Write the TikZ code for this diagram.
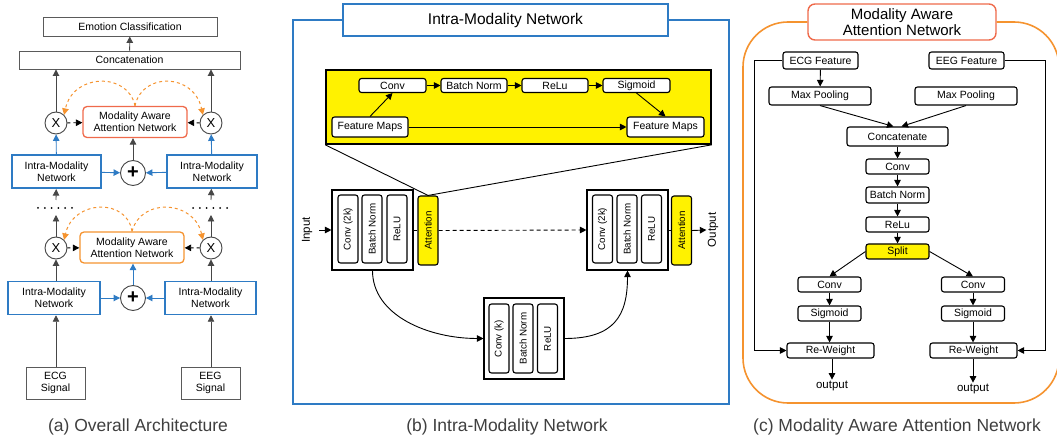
\documentclass[tikz,border=0pt]{standalone}
\usepackage{fontspec}
\setmainfont{Liberation Sans}
\usepackage{tikz}
\usepackage{xcolor}
\usetikzlibrary{arrows.meta,shapes}
\definecolor{imnblue}{RGB}{46,123,196}
\definecolor{maanred}{RGB}{239,106,75}
\definecolor{maanorange}{RGB}{245,147,47}
\definecolor{boxgray}{RGB}{90,90,90}
\definecolor{linegray}{RGB}{70,70,70}
\definecolor{capgray}{RGB}{63,63,63}
\def\BoxFont{\fontsize{10.5}{12}\selectfont}
\def\CapFont{\fontsize{17.5}{20}\selectfont}
\tikzset{every scope/.style={>={Triangle[length=6.5pt,width=6.5pt]},line width=0.9pt}}
\tikzstyle{plain_box} =
  [ rectangle
  , draw=boxgray
  , font=\BoxFont
  , align=center
  , inner sep=0pt
  ]
\tikzstyle{imn_box} =
  [ rectangle
  , draw=imnblue
  , line width=1.5pt
  , font=\BoxFont
  , align=center
  , inner sep=0pt
  , minimum height=33pt
  ]
\tikzstyle{maan_box} =
  [ rectangle
  , rounded corners=4pt
  , line width=1.3pt
  , font=\BoxFont
  , align=center
  , inner sep=0pt
  , minimum width=104pt
  , minimum height=31pt
  ]
\tikzstyle{op_circle} =
  [ circle
  , draw=linegray
  , fill=white
  , inner sep=0pt
  , font=\fontsize{13}{13}\selectfont
  ]
\tikzstyle{layer} =
  [ rectangle
  , rounded corners=2.5pt
  , draw
  , line width=1.1pt
  , fill=white
  , font=\BoxFont
  , inner sep=0pt
  , minimum height=14pt
  ]
\tikzstyle{vlayer} =
  [ layer
  , rotate=90
  , font=\fontsize{9.8}{11}\selectfont
  , minimum width=68pt
  , minimum height=20pt
  ]
\tikzstyle{block} =
  [ rectangle
  , draw
  , line width=1.1pt
  , minimum width=81pt
  , minimum height=80pt
  ]
\tikzstyle{arc_arrow} =
  [ ->
  , maanorange
  , dashed
  , line width=1pt
  ]
\def\IntraNet{Intra-Modality\\Network}
\def\MaanText{Modality Aware\\Attention Network}
\def\PlusSign{{\fontsize{20}{20}\selectfont\textbf{+}}}

\begin{document}
\begin{tikzpicture}[x=1pt,y=-1pt]
    \clip (0,0) rectangle (1057,443);

    \node[plain_box, minimum width=174pt, minimum height=19pt] (emotion) at (130, 26.5) {Emotion Classification};
    \node[plain_box, minimum width=221pt, minimum height=18pt] (concat)  at (129.5, 60)  {Concatenation};
    \draw[->, linegray] (concat) -- (emotion);

    \node[op_circle, minimum size=22pt] (xl_top)   at (56, 123)  {X};
    \node[op_circle, minimum size=22pt] (xr_top)   at (211, 123) {X};
    \node[maan_box, draw=maanred]       (maan_top) at (135, 122) {\MaanText};
    \node[imn_box, line width=2.2pt, minimum width=89pt] (imn_tl) at (56.5, 171.5) {\IntraNet};
    \node[imn_box, minimum width=90pt]  (imn_tr)   at (212, 171.5) {\IntraNet};
    \node[op_circle, minimum size=25pt] (plus_top) at (133, 173) {\PlusSign};

    \draw[->, linegray] (xl_top) -- (xl_top |- concat.south);
    \draw[->, linegray] (xr_top) -- (xr_top |- concat.south);
    \draw[->, dashed, dash pattern=on 3pt off 3pt] (xl_top) -- (maan_top);
    \draw[->, dashed, dash pattern=on 3pt off 3pt] (xr_top) -- (maan_top);
    \draw[arc_arrow] (maan_top.north) .. controls +(-7,-34) and +(9,-42) .. (xl_top.north east);
    \draw[arc_arrow] (maan_top.north) .. controls +(7,-34) and +(-9,-42) .. (xr_top.north west);
    \draw[->, imnblue] (imn_tl) -- (xl_top);
    \draw[->, imnblue] (imn_tr) -- (xr_top);
    \draw[->, imnblue] (imn_tl) -- (plus_top);
    \draw[->, imnblue] (imn_tr) -- (plus_top);
    \draw[->, linegray] (plus_top) -- (plus_top |- maan_top.south);

    \coordinate (gap_l_up)  at (56, 200);
    \coordinate (gap_r_up)  at (211, 200);
    \coordinate (gap_l_low) at (56, 215);
    \coordinate (gap_r_low) at (211, 215);
    \foreach \x in {0,...,5} {
      \fill (38+6.8*\x, 208) circle (1pt);
      \fill (193+6.8*\x, 208) circle (1pt);
    }
    \draw[->, linegray] (gap_l_up) -- (imn_tl);
    \draw[->, linegray] (gap_r_up) -- (imn_tr);

    \node[op_circle, minimum size=22pt] (xl_bot)   at (56, 248)  {X};
    \node[op_circle, minimum size=22pt] (xr_bot)   at (211, 248) {X};
    \node[maan_box, draw=maanorange]    (maan_bot) at (132, 247.5) {\MaanText};
    \node[imn_box, minimum width=92pt]  (imn_bl)   at (54, 298)  {\IntraNet};
    \node[imn_box, minimum width=91pt]  (imn_br)   at (210.5, 298) {\IntraNet};
    \node[op_circle, minimum size=25pt] (plus_bot) at (133, 298) {\PlusSign};
    \node[plain_box, minimum width=59pt, minimum height=32pt] (ecg_sig) at (55.5, 383)  {ECG\\Signal};
    \node[plain_box, minimum width=59pt, minimum height=32pt] (eeg_sig) at (210.5, 383) {EEG\\Signal};

    \draw[->, linegray] (xl_bot) -- (gap_l_low);
    \draw[->, linegray] (xr_bot) -- (gap_r_low);
    \draw[->, dashed, dash pattern=on 3pt off 3pt] (xl_bot) -- (maan_bot);
    \draw[->, dashed, dash pattern=on 3pt off 3pt] (xr_bot) -- (maan_bot);
    \draw[arc_arrow] (maan_bot.north) .. controls +(-5,-34) and +(9,-40) .. (xl_bot.north east);
    \draw[arc_arrow] (maan_bot.north) .. controls +(9,-34) and +(-9,-40) .. (xr_bot.north west);
    \draw[->, linegray] (imn_bl.north -| xl_bot) -- (xl_bot);
    \draw[->, linegray] (imn_br.north -| xr_bot) -- (xr_bot);
    \draw[->, imnblue] (imn_bl) -- (plus_bot);
    \draw[->, imnblue] (imn_br) -- (plus_bot);
    \draw[->, imnblue] (plus_bot) -- (plus_bot |- maan_bot.south);
    \draw[->, linegray] (ecg_sig.north -| xl_bot) -- (imn_bl.south -| xl_bot);
    \draw[->, linegray] (eeg_sig.north -| xr_bot) -- (imn_br.south -| xr_bot);

    \node[text=capgray, font=\CapFont] (caption_a) at (138, 427) {(a) Overall Architecture};

    \node[rectangle, draw=imnblue, line width=1.4pt, minimum width=325pt, minimum height=32pt, font=\fontsize{15.5}{18}\selectfont] (imn_title) at (505.5, 20) {Intra-Modality Network};
    \draw[imnblue, line width=1.6pt] (imn_title.west) -| (293, 404) -| (729, 20) -- (imn_title.east);

    \node[rectangle, draw, line width=1.6pt, fill=yellow, minimum width=385pt, minimum height=74pt] (att_detail) at (518.5, 107) {};
    \node[layer, minimum width=67pt] (conv_a) at (392.5, 85.5) {Conv};
    \node[layer, minimum width=66pt] (bn_a)   at (474, 85.5)   {Batch Norm};
    \node[layer, minimum width=66pt] (relu_a) at (555, 85.5)   {ReLu};
    \node[layer, minimum width=67pt] (sig_a)  at (636.5, 85.5) {Sigmoid};
    \node[layer, minimum width=76pt, minimum height=20pt] (fm_in)  at (370, 127)   {Feature Maps};
    \node[layer, minimum width=77pt, minimum height=20pt] (fm_out) at (665.5, 127) {Feature Maps};
    \draw[->] (conv_a) -- (bn_a);
    \draw[->] (bn_a) -- (relu_a);
    \draw[->] (relu_a) -- (sig_a);
    \draw[->] (fm_in) -- (fm_out);
    \draw[->] (fm_in.north) -- (conv_a.south);
    \draw[->] (sig_a.south) -- (fm_out.north);

    \node[block] (block1) at (372.5, 230) {};
    \node[vlayer] (conv1) at (348, 229)   {Conv (2k)};
    \node[vlayer] (bn1)   at (372, 229)   {Batch Norm};
    \node[vlayer] (relu1) at (397, 229)   {ReLU};
    \node[vlayer, fill=yellow, minimum width=69pt] (att1) at (428, 230.5) {Attention};
    \node[block] (block2) at (627.5, 230) {};
    \node[vlayer] (conv2) at (602.5, 229) {Conv (2k)};
    \node[vlayer] (bn2)   at (627, 229)   {Batch Norm};
    \node[vlayer] (relu2) at (651.5, 229) {ReLU};
    \node[vlayer, fill=yellow, minimum width=69pt] (att2) at (681.5, 230.5) {Attention};
    \node[block, minimum width=80pt, minimum height=81pt] (block3) at (524, 338.5) {};
    \node[vlayer, minimum width=69pt] (conv3) at (499, 338.5)   {Conv (k)};
    \node[vlayer, minimum width=69pt] (bn3)   at (523, 338.5)   {Batch Norm};
    \node[vlayer, minimum width=69pt] (relu3) at (547.5, 338.5) {ReLU};

    \draw (att_detail.south west) -- (att1.east);
    \draw (att_detail.south east) -- (att1.east);
    \node[rotate=90, font=\fontsize{11.5}{13}\selectfont, inner sep=1pt] (input_lbl)  at (307, 230) {Input};
    \node[rotate=90, font=\fontsize{11.5}{13}\selectfont, inner sep=1pt] (output_lbl) at (713, 230) {Output};
    \coordinate (input_start) at (319, 230);
    \draw[->] (input_start) -- (block1.west);
    \draw (block1.east) -- (block1.east -| att1.north);
    \draw[->, dashed, dash pattern=on 4pt off 3pt] (att1.south) -- (block2.west);
    \draw (block2.east) -- (block2.east -| att2.north);
    \draw[->] (att2.south) -- (output_lbl.north);
    \draw[->] (block1.south) .. controls +(0,45) and +(-55,0) .. (block3.west);
    \draw[->] (block3.east) .. controls +(50,0) and +(0,45) .. (block2.south);

    \node[text=capgray, font=\CapFont] (caption_b) at (507, 427) {(b) Intra-Modality Network};

    \node[rectangle, rounded corners=7pt, draw=maanred, line width=1.4pt, fill=white, minimum width=188pt, minimum height=36pt, inner sep=0pt, align=center, font=\fontsize{15}{16.5}\selectfont] (maan_title) at (902, 22) {\MaanText};
    \draw[maanorange, line width=1.6pt, rounded corners=45pt] (maan_title.west) -| (743, 403) -| (1059, 22) -- (maan_title.east);

    \node[layer, minimum width=75pt, minimum height=17pt]  (ecg_feat) at (820.5, 60.5) {ECG Feature};
    \node[layer, minimum width=75pt, minimum height=17pt]  (eeg_feat) at (966.5, 60.5) {EEG Feature};
    \node[layer, minimum width=102pt, minimum height=18pt] (mp_l)     at (820, 96)     {Max Pooling};
    \node[layer, minimum width=102pt, minimum height=18pt] (mp_r)     at (966, 96)     {Max Pooling};
    \node[layer, minimum width=101pt, minimum height=19pt] (concat_c) at (897.5, 136.5) {Concatenate};
    \node[layer, minimum width=63pt, minimum height=15pt]  (conv_c)   at (897.5, 166.5) {Conv};
    \node[layer, minimum width=63pt, minimum height=16pt]  (bn_c)     at (897.5, 195)   {Batch Norm};
    \node[layer, minimum width=63pt, minimum height=15pt]  (relu_c)   at (897.5, 224.5) {ReLu};
    \node[layer, minimum width=63pt, minimum height=15pt, fill=yellow] (split) at (897.5, 251.5) {Split};
    \node[layer, minimum width=63pt, minimum height=15pt]  (conv_l)   at (829.5, 284.5) {Conv};
    \node[layer, minimum width=63pt, minimum height=15pt]  (conv_r)   at (973, 284.5)   {Conv};
    \node[layer, minimum width=63pt, minimum height=15pt]  (sig_l)    at (829.5, 313.5) {Sigmoid};
    \node[layer, minimum width=63pt, minimum height=15pt]  (sig_r)    at (973, 313.5)   {Sigmoid};
    \node[layer, minimum width=87pt, minimum height=15pt]  (rw_l)     at (830.5, 350.5) {Re-Weight};
    \node[layer, minimum width=87pt, minimum height=15pt]  (rw_r)     at (973.5, 350.5) {Re-Weight};
    \node[font=\fontsize{11.5}{13}\selectfont, inner sep=1pt] (out_l) at (832, 386) {output};
    \node[font=\fontsize{11.5}{13}\selectfont, inner sep=1pt] (out_r) at (973, 389) {output};

    \draw[->] (ecg_feat) -- (mp_l);
    \draw[->] (mp_l.south) -- ([xshift=-4pt]concat_c.north);
    \draw[->] (mp_r.south) -- ([xshift=4pt]concat_c.north);
    \draw[->] (concat_c) -- (conv_c);
    \draw[->] (conv_c) -- (bn_c);
    \draw[->] (bn_c) -- (relu_c);
    \draw[->] (relu_c) -- (split);
    \draw[->] (split.west) -- (conv_l.north);
    \draw[->] (split.east) -- (conv_r.north);
    \draw[->] (conv_l) -- (sig_l);
    \draw[->] (conv_r) -- (sig_r);
    \draw[->] (sig_l) -- (rw_l.north -| sig_l);
    \draw[->] (sig_r) -- (rw_r.north -| sig_r);
    \draw[->] (rw_l.south -| out_l) -- (out_l);
    \draw[->] (rw_r.south -| out_r) -- (out_r);
    \coordinate (ecg_side) at (754, 60.5);
    \coordinate (eeg_side) at (1045, 60.5);
    \draw[->] (ecg_feat.west) -- (ecg_side) |- (rw_l.west);
    \draw[->] (eeg_feat.east) -- (eeg_side) |- (rw_r.east);

    \node[text=capgray, font=\CapFont] (caption_c) at (897, 427) {(c) Modality Aware Attention Network};
  \end{tikzpicture}
\end{document}
